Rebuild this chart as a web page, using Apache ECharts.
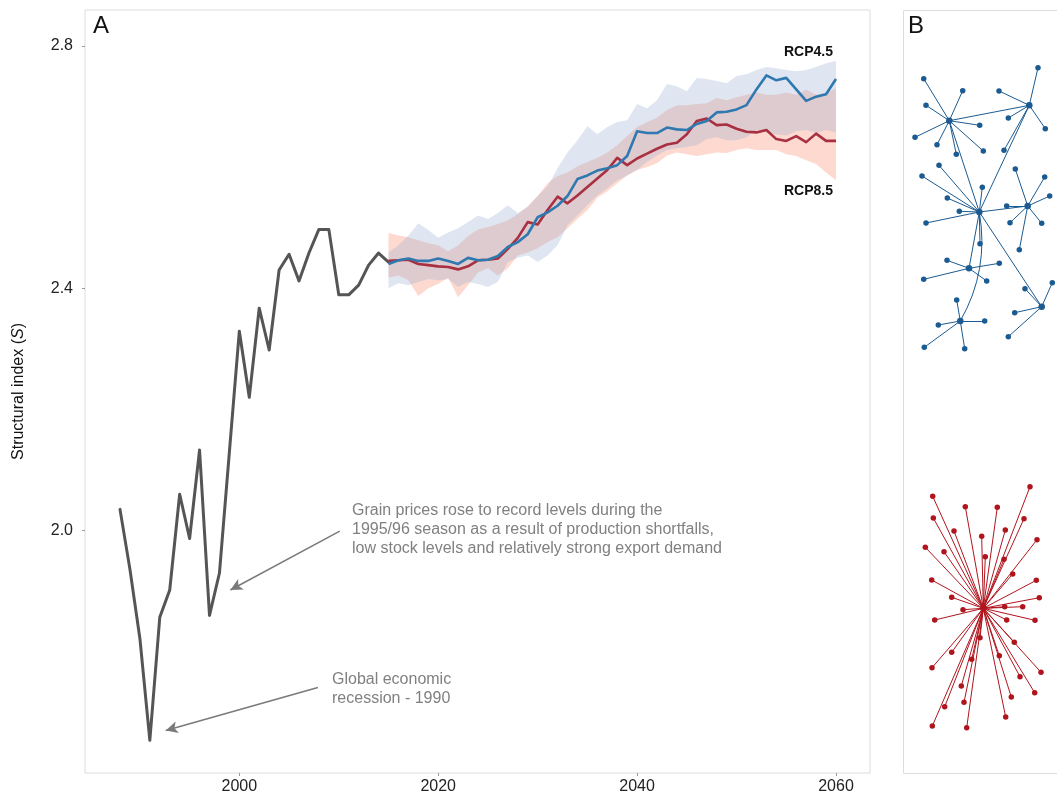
<!DOCTYPE html>
<html>
<head>
<meta charset="utf-8">
<script src="https://cdn.jsdelivr.net/npm/echarts@6/dist/echarts.min.js"></script>
<style>
html,body{margin:0;padding:0;background:#ffffff;}
#chart{width:1057px;height:798px;}
</style>
</head>
<body>
<div id="chart"></div>
<script>
// ---------- Panel A data ----------
const histYears = [1988,1989,1990,1991,1992,1993,1994,1995,1996,1997,1998,1999,2000,2001,2002,2003,2004,2005,2006,2007,2008,2009,2010,2011,2012,2013,2014,2015];
const histValues = [2.035,1.936,1.822,1.654,1.857,1.902,2.060,1.987,2.133,1.860,1.930,2.130,2.329,2.220,2.367,2.298,2.430,2.456,2.412,2.458,2.497,2.497,2.389,2.389,2.405,2.438,2.458,2.443];

const projYears = [2015,2016,2017,2018,2019,2020,2021,2022,2023,2024,2025,2026,2027,2028,2029,2030,2031,2032,2033,2034,2035,2036,2037,2038,2039,2040,2041,2042,2043,2044,2045,2046,2047,2048,2049,2050,2051,2052,2053,2054,2055,2056,2057,2058,2059,2060];

const rcp45 = [2.440,2.446,2.449,2.445,2.445,2.449,2.445,2.440,2.450,2.446,2.447,2.453,2.468,2.476,2.489,2.517,2.525,2.536,2.552,2.580,2.586,2.594,2.598,2.603,2.618,2.659,2.656,2.656,2.665,2.662,2.661,2.671,2.676,2.690,2.691,2.695,2.702,2.728,2.751,2.743,2.747,2.728,2.709,2.716,2.720,2.745];
const rcp85 = [2.445,2.446,2.447,2.440,2.438,2.436,2.435,2.431,2.436,2.446,2.447,2.449,2.465,2.483,2.509,2.505,2.529,2.551,2.540,2.553,2.567,2.581,2.595,2.615,2.603,2.614,2.622,2.630,2.637,2.640,2.654,2.676,2.680,2.669,2.670,2.663,2.658,2.657,2.661,2.646,2.643,2.651,2.641,2.655,2.643,2.643];

const rcp45High = [2.459,2.471,2.487,2.507,2.496,2.483,2.492,2.499,2.509,2.520,2.514,2.524,2.537,2.524,2.534,2.552,2.568,2.598,2.624,2.644,2.667,2.654,2.666,2.674,2.677,2.704,2.697,2.710,2.737,2.733,2.725,2.747,2.745,2.742,2.738,2.750,2.753,2.760,2.765,2.763,2.760,2.758,2.760,2.765,2.771,2.775];
const rcp45Low = [2.400,2.408,2.405,2.410,2.415,2.413,2.415,2.402,2.410,2.407,2.402,2.410,2.443,2.450,2.454,2.443,2.454,2.471,2.504,2.520,2.537,2.553,2.565,2.578,2.586,2.595,2.608,2.619,2.628,2.631,2.633,2.636,2.646,2.649,2.644,2.644,2.649,2.661,2.657,2.654,2.652,2.659,2.661,2.656,2.661,2.657];
const rcp85High = [2.491,2.487,2.484,2.479,2.474,2.471,2.461,2.471,2.486,2.497,2.501,2.506,2.512,2.522,2.535,2.552,2.573,2.585,2.591,2.601,2.608,2.615,2.624,2.636,2.651,2.666,2.674,2.681,2.694,2.702,2.702,2.704,2.705,2.714,2.710,2.715,2.719,2.723,2.719,2.719,2.723,2.719,2.728,2.719,2.722,2.730];
const rcp85Low = [2.417,2.421,2.413,2.387,2.400,2.407,2.417,2.385,2.405,2.426,2.433,2.421,2.433,2.454,2.459,2.466,2.476,2.484,2.499,2.514,2.529,2.549,2.560,2.573,2.586,2.595,2.600,2.606,2.619,2.624,2.621,2.618,2.621,2.624,2.623,2.628,2.631,2.628,2.628,2.628,2.621,2.618,2.611,2.605,2.591,2.578];

const xTicks = [2000,2020,2040,2060];
const yTicks = [2.0,2.4,2.8];

// annotation arrows: [fromYear, fromValue, toYear, toValue]
const arrowGrain = [2010.1,1.999,1999.1,1.902];
const arrowRecession = [2007.9,1.741,1992.6,1.670];

const noteGrain = ['Grain prices rose to record levels during the','1995/96 season as a result of production shortfalls,','low stock levels and relatively strong export demand'];
const noteRecession = ['Global economic','recession - 1990'];

// ---------- Panel B data (network layouts, panel units) ----------
const blueNodes = [
 [46.3,110.7],[126.3,95.3],[76.3,202],[124.7,196],[66,258.3],[57.3,311],[138.7,296.7],
 [20.7,68.7],[59.7,80.7],[23,95.3],[76.7,115.3],[12,127.3],[34,134.7],[53.3,144.3],[80.3,141],
 [135,57.7],[96,81],[105.3,108],[142.3,118.7],[101,140.3],
 [19,166],[36,155.3],[44.3,188],[56.3,201.3],[79.3,177.3],[23,213],[77,233.7],
 [112.3,159],[141.7,167],[146.7,186],[103.7,196],[107,212.7],[138.7,213.3],[116.3,239.7],
 [44,250.3],[96.3,253.3],[83.7,271],[20.7,269.3],
 [53.7,290],[81.7,311],[35.3,315],[21.3,337.3],[61.7,338.7],
 [149.3,272.7],[122,278.7],[111.7,302.7],[105.3,326.7]
];
const blueLinks = [
 [0,1],[0,2],[1,2],[2,3],[2,4],[2,5],[2,6],
 [0,7],[0,8],[0,9],[0,10],[0,11],[0,12],[0,13],[0,14],
 [1,15],[1,16],[1,17],[1,18],[1,19],
 [2,20],[2,21],[2,22],[2,23],[2,24],[2,25],[2,26],
 [3,27],[3,28],[3,29],[3,30],[3,31],[3,32],[3,33],
 [4,34],[4,35],[4,36],[4,37],
 [5,38],[5,39],[5,40],[5,41],[5,42],
 [6,43],[6,44],[6,45],[6,46]
];
const redNodes = [
 [80.3,598.3],
 [127,476.7],[29.7,486.3],[62.3,496.7],[94.3,497.3],[30.3,508],[121,508.7],[51,521],[102.3,520],
 [78.7,526.3],[22.3,537.3],[134,529.7],[41,541.7],[82.3,546.7],[101,549.3],[109.7,564],[28.7,570],
 [133.3,570.3],[48.7,587.3],[136.3,587.7],[60,599.7],[101.7,596.7],[119.7,596.7],[31.7,610],[103.7,610],
 [132,610.3],[77,627.7],[111.3,632.3],[48.7,642.3],[68.7,649.3],[96.3,645.7],[29,657.7],[138,662.3],
 [117,666.7],[58.3,676],[131.7,682.7],[108.3,687],[61,692.3],[41.7,696.7],[102.7,707],[29.3,716],[63.7,717.7]
];

// ---------- build option ----------
const FONT = '"Liberation Sans", Arial, Helvetica, sans-serif';
const GRID_A = {left:85, top:10, width:785, height:763};
const GRID_B = {left:903, top:10, width:154, height:763};

function pairs(xs, ys){ return xs.map((x,i)=>[x, ys[i]]); }

function bandSeries(name, lo, hi, color, z){
  return {
    type:'custom', name:name, xAxisIndex:0, yAxisIndex:0, z:z, silent:true, clip:true,
    data:[[projYears[0], lo[0]]],
    encode:{x:0, y:1},
    renderItem:function(params, api){
      const pts = [];
      for (let i=0;i<projYears.length;i++) pts.push(api.coord([projYears[i], hi[i]]));
      for (let i=projYears.length-1;i>=0;i--) pts.push(api.coord([projYears[i], lo[i]]));
      return {type:'polygon', shape:{points:pts}, style:{fill:color}};
    }
  };
}

const blueCol = '#1b5b91';
const redCol = '#b0151e';
const frameCol = '#dcdcdc';

const option = {
  animation:false,
  backgroundColor:'#ffffff',
  textStyle:{fontFamily:FONT},
  grid:[
    Object.assign({show:true, borderColor:frameCol, borderWidth:1, backgroundColor:'transparent'}, GRID_A),
    Object.assign({show:false}, GRID_B)
  ],
  xAxis:[
    {type:'value', gridIndex:0, min:1984.48, max:2063.42,
     axisLine:{show:false}, splitLine:{show:false},
     axisTick:{show:true, customValues:xTicks, length:3, lineStyle:{color:'#9a9a9a'}},
     axisLabel:{customValues:xTicks, margin:6, fontSize:16, color:'#222', fontFamily:FONT, formatter:v=>String(Math.round(v))}},
    {type:'value', gridIndex:1, min:0, max:154, show:false}
  ],
  yAxis:[
    {type:'value', gridIndex:0, min:1.6, max:2.859,
     axisLine:{show:false}, splitLine:{show:false},
     axisTick:{show:true, customValues:yTicks, length:3, lineStyle:{color:'#9a9a9a'}},
     axisLabel:{customValues:yTicks, margin:12, fontSize:16, color:'#222', fontFamily:FONT, formatter:v=>v.toFixed(1)},
     name:'Structural index ({i|S})', nameLocation:'middle', nameGap:58, nameRotate:90,
     nameTextStyle:{fontSize:16, color:'#111', fontFamily:FONT, rich:{i:{fontStyle:'italic', fontSize:16, color:'#111', fontFamily:FONT}}}},
    {type:'value', gridIndex:1, min:0, max:763, inverse:true, show:false}
  ],
  series:[
    bandSeries('RCP8.5 range', rcp85Low, rcp85High, 'rgba(248,128,95,0.30)', 1),
    bandSeries('RCP4.5 range', rcp45Low, rcp45High, 'rgba(148,172,208,0.30)', 2),
    {type:'line', name:'Observed', xAxisIndex:0, yAxisIndex:0, z:3,
     data:pairs(histYears, histValues), showSymbol:false, symbol:'none',
     lineStyle:{color:'#555555', width:3, join:'round', cap:'round'},
     markLine:{silent:true, symbol:['none','arrow'], symbolSize:[9,12], animation:false,
       label:{show:false}, lineStyle:{color:'#7a7a7a', width:1.5, type:'solid'},
       emphasis:{disabled:true},
       data:[
         [{coord:[arrowGrain[0],arrowGrain[1]]},{coord:[arrowGrain[2],arrowGrain[3]]}],
         [{coord:[arrowRecession[0],arrowRecession[1]]},{coord:[arrowRecession[2],arrowRecession[3]]}]
       ]}},
    {type:'line', name:'RCP8.5', xAxisIndex:0, yAxisIndex:0, z:4,
     data:pairs(projYears, rcp85), showSymbol:false, symbol:'none',
     lineStyle:{color:'#a83040', width:2.6, join:'round'}},
    {type:'line', name:'RCP4.5', xAxisIndex:0, yAxisIndex:0, z:5,
     data:pairs(projYears, rcp45), showSymbol:false, symbol:'none',
     lineStyle:{color:'#2f78b0', width:2.6, join:'round'}},
    {type:'graph', coordinateSystem:'cartesian2d', xAxisIndex:1, yAxisIndex:1, silent:true,
     data:blueNodes.map((p,i)=>({value:p, symbolSize: i<7 ? 6.5 : 5.5})),
     links:blueLinks.map(([s,t])=>({source:s, target:t, lineStyle:(s===2&&t===5)?{curveness:0.18}:{}})),
     symbol:'circle', itemStyle:{color:blueCol}, label:{show:false},
     lineStyle:{color:blueCol, width:1, opacity:1}},
    {type:'graph', coordinateSystem:'cartesian2d', xAxisIndex:1, yAxisIndex:1, silent:true,
     data:redNodes.map((p,i)=>({value:p, symbolSize: i===0 ? 6.5 : 5.5})),
     links:redNodes.slice(1).map((p,i)=>({source:0, target:i+1})),
     symbol:'circle', itemStyle:{color:redCol}, label:{show:false},
     lineStyle:{color:redCol, width:1, opacity:1}}
  ],
  graphic:[
    {type:'polyline', silent:true, shape:{points:[[1057,10.5],[903.5,10.5],[903.5,773.5],[1057,773.5]]}, style:{stroke:frameCol, lineWidth:1, fill:null}},
    {type:'text', left:93, top:14, style:{text:'A', font:'24px '+FONT, fill:'#111'}},
    {type:'text', left:908, top:14, style:{text:'B', font:'24px '+FONT, fill:'#111'}},
    {type:'text', x:352, y:501, style:{text:noteGrain.join('\n'), font:'16px '+FONT, fill:'#808080', lineHeight:19, verticalAlign:'top'}},
    {type:'text', x:332, y:670, style:{text:noteRecession.join('\n'), font:'16px '+FONT, fill:'#808080', lineHeight:19, verticalAlign:'top'}},
    {type:'text', x:833, y:52, style:{text:'RCP4.5', font:'bold 14px '+FONT, fill:'#111', align:'right', verticalAlign:'middle'}},
    {type:'text', x:833, y:191, style:{text:'RCP8.5', font:'bold 14px '+FONT, fill:'#111', align:'right', verticalAlign:'middle'}}
  ]
};

const chart = echarts.init(document.getElementById('chart'), null, {renderer:'canvas'});
chart.setOption(option);
</script>
</body>
</html>
